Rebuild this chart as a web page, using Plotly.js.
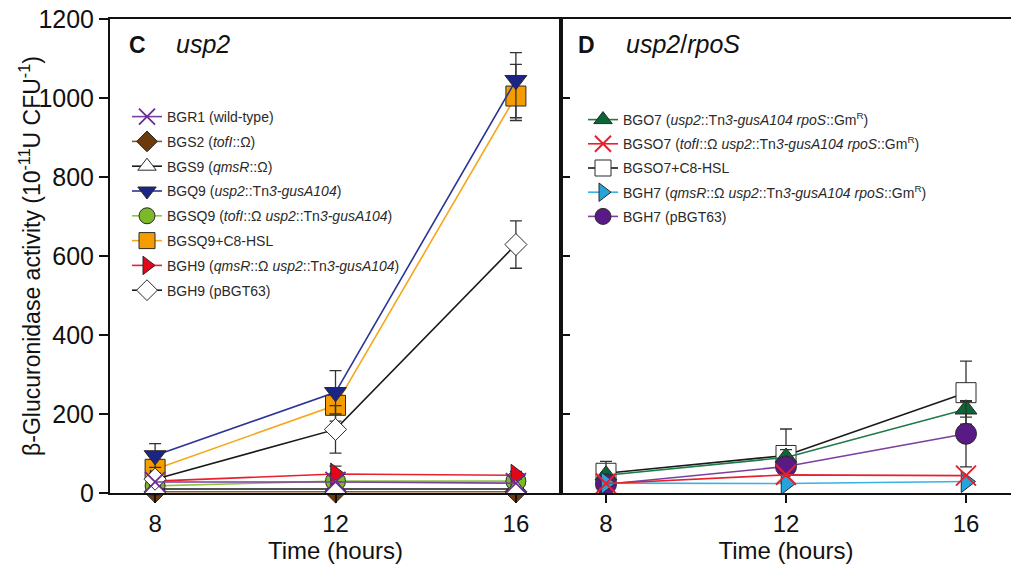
<!DOCTYPE html>
<html>
<head>
<meta charset="utf-8">
<script src="https://cdn.plot.ly/plotly-3.0.1.min.js"></script>
<style>html,body{margin:0;padding:0;background:#fff;}#chart{width:1011px;height:567px;}</style>
</head>
<body>
<div id="chart"></div>
<script>
// Time points (hours)
const hours = [8, 12, 16];

// Panel C: usp2
const BGR1 = [28, 28, 25];
const BGS2 = [3, 3, 3];
const BGS9 = [10, 10, 10];
const BGQ9 = [95, 255, 1045];
const BGQ9_errPlus = [30, 55, 40];
const BGQ9_errMinus = [30, 55, 95];
const BGSQ9 = [18, 30, 30];
const BGSQ9_C8 = [60, 222, 1005];
const BGSQ9_C8_errPlus = [25, 40, 110];
const BGSQ9_C8_errMinus = [30, 40, 62];
const BGH9 = [30, 48, 45];
const BGH9_err = [10, 20, 10];
const BGH9p = [35, 161, 629];
const BGH9p_err = [15, 60, 60];

// Panel D: usp2/rpoS
const BGO7 = [45, 90, 212];
const BGO7_err = [35, 20, 20];
const BGSO7 = [24, 46, 44];
const BGSO7_C8 = [50, 95, 254];
const BGSO7_C8_err = [15, 67, 80];
const BGH7 = [25, 24, 29];
const BGH7p = [22, 67, 150];
const BGH7p_err = [10, 20, 84];

const FONT = 'Arial, "Liberation Sans", sans-serif';
const EDGE = '#2a2a2a';

function err(plus, minus) {
  return {type: 'data', symmetric: minus ? false : true, array: plus, arrayminus: minus || plus,
          color: '#333', thickness: 1.3, width: 6, visible: true};
}
function tr(y, name, opts) {
  const t = {
    x: hours, y: y, name: name, type: 'scatter', mode: 'lines+markers',
    line: {color: opts.line, width: 1.6},
    marker: {symbol: opts.symbol, size: opts.size, color: opts.fill,
             line: {color: opts.edge || EDGE, width: opts.lw || 1}},
    xaxis: opts.xa, yaxis: opts.ya, legend: opts.legend,
    legendgroup: name, legendrank: opts.rank, cliponaxis: false
  };
  if (opts.err) t.error_y = opts.err;
  return t;
}

const traces = [
  // Panel C (draw order bottom->top; legend order by rank)
  tr(BGS2, 'BGS2 (<i>tofI</i>::Ω)', {symbol: 'diamond', size: 17, fill: '#6b3b0c', line: '#8a5a2a', xa: 'x', ya: 'y', legend: 'legend', rank: 2}),
  tr(BGSQ9_C8, 'BGSQ9+C8-HSL', {symbol: 'square', size: 20, fill: '#f59d00', line: '#f7a61c', xa: 'x', ya: 'y', legend: 'legend', rank: 6, err: err(BGSQ9_C8_errPlus, BGSQ9_C8_errMinus)}),
  tr(BGQ9, 'BGQ9 (<i>usp2</i>::Tn<i>3-gusA104</i>)', {symbol: 'triangle-down', size: 19, fill: '#1c2585', line: '#2a3596', xa: 'x', ya: 'y', legend: 'legend', rank: 4, err: err(BGQ9_errPlus, BGQ9_errMinus)}),
  tr(BGSQ9, 'BGSQ9 (<i>tofI</i>::Ω <i>usp2</i>::Tn<i>3-gusA104</i>)', {symbol: 'circle', size: 20, fill: '#7cb928', line: '#8dc63f', xa: 'x', ya: 'y', legend: 'legend', rank: 5}),
  tr(BGH9, 'BGH9 (<i>qmsR</i>::Ω <i>usp2</i>::Tn<i>3-gusA104</i>)', {symbol: 'triangle-right', size: 19, fill: '#e3061b', line: '#e8202e', xa: 'x', ya: 'y', legend: 'legend', rank: 7, err: err(BGH9_err)}),
  tr(BGS9, 'BGS9 (<i>qmsR</i>::Ω)', {symbol: 'triangle-up', size: 19, fill: '#ffffff', line: '#1a1a1a', xa: 'x', ya: 'y', legend: 'legend', rank: 3}),
  tr(BGH9p, 'BGH9 (pBGT63)', {symbol: 'diamond', size: 17, fill: '#ffffff', line: '#1a1a1a', xa: 'x', ya: 'y', legend: 'legend', rank: 8, err: err(BGH9p_err)}),
  tr(BGR1, 'BGR1 (wild-type)', {symbol: 'x-thin-open', size: 20, fill: '#6a2c91', edge: '#6a2c91', lw: 1.8, line: '#7a3fa0', xa: 'x', ya: 'y', legend: 'legend', rank: 1}),
  // Panel D
  tr(BGSO7_C8, 'BGSO7+C8-HSL', {symbol: 'square', size: 20, fill: '#ffffff', line: '#1a1a1a', xa: 'x2', ya: 'y2', legend: 'legend2', rank: 3, err: err(BGSO7_C8_err)}),
  tr(BGO7, 'BGO7 (<i>usp2</i>::Tn<i>3-gusA104 rpoS</i>::Gm<sup>R</sup>)', {symbol: 'triangle-up', size: 19, fill: '#0b6534', line: '#1f7a4a', xa: 'x2', ya: 'y2', legend: 'legend2', rank: 1, err: err(BGO7_err)}),
  tr(BGH7p, 'BGH7 (pBGT63)', {symbol: 'circle', size: 21, fill: '#5a1a85', line: '#7b3fa0', xa: 'x2', ya: 'y2', legend: 'legend2', rank: 5, err: err(BGH7p_err)}),
  tr(BGH7, 'BGH7 (<i>qmsR</i>::Ω <i>usp2</i>::Tn<i>3-gusA104 rpoS</i>::Gm<sup>R</sup>)', {symbol: 'triangle-right', size: 19, fill: '#27a3dc', line: '#38b0e8', xa: 'x2', ya: 'y2', legend: 'legend2', rank: 4}),
  tr(BGSO7, 'BGSO7 (<i>tofI</i>::Ω <i>usp2</i>::Tn<i>3-gusA104 rpoS</i>::Gm<sup>R</sup>)', {symbol: 'x-thin-open', size: 20, fill: '#e8202e', edge: '#e8202e', lw: 2, line: '#e8202e', xa: 'x2', ya: 'y2', legend: 'legend2', rank: 2})
];

const W = 1011;
const xTicks = [8, 12, 16];
const yTicks = [0, 200, 400, 600, 800, 1000, 1200];
const yTitle = 'β-Glucuronidase activity (10<sup>-11</sup>U CFU<sup>-1</sup>)';

const xBase = {
  range: [7, 17], tickvals: xTicks, ticktext: xTicks.map(String),
  showline: true, linecolor: '#111', linewidth: 2, mirror: true,
  ticks: 'outside', ticklen: 8, tickwidth: 2, tickcolor: '#111',
  showgrid: false, zeroline: false,
  tickfont: {family: FONT, size: 24, color: '#111'},
  title: {text: 'Time (hours)', font: {family: FONT, size: 24, color: '#111'}, standoff: 3}
};

const layout = {
  width: 1011, height: 567,
  margin: {l: 0, r: 0, t: 19, b: 74},
  paper_bgcolor: '#ffffff', plot_bgcolor: '#ffffff',
  font: {family: FONT, color: '#111'},
  xaxis: Object.assign({}, xBase, {domain: [110 / W, 561 / W], anchor: 'y'}),
  xaxis2: Object.assign({}, xBase, {domain: [561 / W, 1], anchor: 'y2'}),
  yaxis: {
    range: [0, 1200], tickvals: yTicks, anchor: 'x',
    showline: true, linecolor: '#111', linewidth: 2, mirror: true,
    ticks: 'outside', ticklen: 9, tickwidth: 2, tickcolor: '#111',
    showgrid: false, zeroline: false,
    tickfont: {family: FONT, size: 25, color: '#111'}
  },
  yaxis2: {
    range: [0, 1200], tickvals: yTicks, anchor: 'x2',
    showline: true, linecolor: '#111', linewidth: 2, mirror: false,
    ticks: 'inside', ticklen: 9, tickwidth: 2, tickcolor: '#111',
    showticklabels: false, showgrid: false, zeroline: false
  },
  legend: {
    x: 127 / W, xanchor: 'left', y: (493 - 101) / 474, yanchor: 'top',
    bgcolor: 'rgba(0,0,0,0)', borderwidth: 0, tracegroupgap: 3.6,
    traceorder: 'grouped', itemclick: false,
    font: {family: FONT, size: 14, color: '#2a2a2a'}
  },
  legend2: {
    x: 583 / W, xanchor: 'left', y: (493 - 104) / 474, yanchor: 'top',
    bgcolor: 'rgba(0,0,0,0)', borderwidth: 0, tracegroupgap: 3,
    traceorder: 'grouped', itemclick: false,
    font: {family: FONT, size: 14, color: '#2a2a2a'}
  },
  showlegend: true,
  annotations: [
    {xref: 'paper', yref: 'paper', x: 30 / W, y: 0.5, xanchor: 'center', yanchor: 'middle',
     textangle: -90, text: yTitle, showarrow: false, font: {family: FONT, size: 23, color: '#111'}},
    {xref: 'paper', yref: 'paper', x: 127 / W, y: (493 - 45) / 474, xanchor: 'left', yanchor: 'middle',
     text: '<b>C</b>', showarrow: false, font: {family: FONT, size: 23, color: '#111'}},
    {xref: 'paper', yref: 'paper', x: 174 / W, y: (493 - 44) / 474, xanchor: 'left', yanchor: 'middle',
     text: '<i>usp2</i>', showarrow: false, font: {family: FONT, size: 25, color: '#111'}},
    {xref: 'paper', yref: 'paper', x: 576 / W, y: (493 - 45) / 474, xanchor: 'left', yanchor: 'middle',
     text: '<b>D</b>', showarrow: false, font: {family: FONT, size: 23, color: '#111'}},
    {xref: 'paper', yref: 'paper', x: 624 / W, y: (493 - 44) / 474, xanchor: 'left', yanchor: 'middle',
     text: '<i>usp2</i>/<i>rpoS</i>', showarrow: false, font: {family: FONT, size: 25, color: '#111'}}
  ]
};

Plotly.newPlot('chart', traces, layout, {staticPlot: true, displayModeBar: false});
</script>
</body>
</html>
